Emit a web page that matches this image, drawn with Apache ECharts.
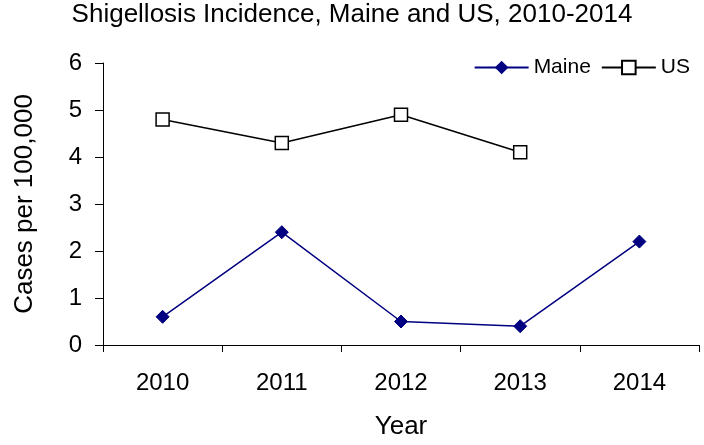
<!DOCTYPE html>
<html><head><meta charset="utf-8">
<script src="https://cdn.jsdelivr.net/npm/echarts@6/dist/echarts.min.js"></script>
<style>html,body{margin:0;padding:0;background:#fff}#c{width:704px;height:445px}</style>
</head><body><div id="c"></div>
<script>
const years = ['2010','2011','2012','2013','2014'];
const maine = [0.6, 2.4, 0.5, 0.4, 2.2];
const us = [4.8, 4.3, 4.9, 4.1, null];
const titleText = 'Shigellosis Incidence, Maine and US, 2010-2014';
const font = 'Liberation Sans, Arial, sans-serif';
const chart = echarts.init(document.getElementById('c'));
chart.setOption({
  animation: false,
  backgroundColor: '#fff',
  title: { text: titleText, left: 'center', top: 2, padding: [0, 0, 0, 0],
    textStyle: { fontFamily: font, fontSize: 26, fontWeight: 'normal', color: '#000' } },
  legend: { right: 14, top: 57, itemWidth: 54, itemHeight: 17, itemGap: 10, padding: 0,
    textStyle: { fontFamily: font, fontSize: 21, color: '#000' },
    data: ['Maine', 'US'] },
  grid: { left: 103, right: 5, top: 63, bottom: 98, containLabel: false },
  xAxis: { type: 'category', data: years, boundaryGap: true,
    name: 'Year', nameLocation: 'middle', nameGap: 69,
    nameTextStyle: { fontFamily: font, fontSize: 26, color: '#000' },
    axisLine: { lineStyle: { color: '#000', width: 1 } },
    axisTick: { show: true, length: 7, inside: false, alignWithLabel: false, lineStyle: { color: '#000' } },
    axisLabel: { fontFamily: font, fontSize: 24, color: '#000', margin: 26 },
    splitLine: { show: false } },
  yAxis: { type: 'value', min: 0, max: 6, interval: 1,
    name: 'Cases per 100,000', nameLocation: 'middle', nameGap: 65,
    nameTextStyle: { fontFamily: font, fontSize: 26, color: '#000' },
    axisLine: { show: true, lineStyle: { color: '#000', width: 1 } },
    axisTick: { show: true, length: 8, lineStyle: { color: '#000' } },
    axisLabel: { fontFamily: font, fontSize: 24, color: '#000', margin: 21 },
    splitLine: { show: false } },
  series: [
    { name: 'Maine', type: 'line', data: maine, symbol: 'diamond', symbolSize: 13,
      lineStyle: { color: '#000080', width: 1.5 }, itemStyle: { color: '#000080', borderColor: '#000080' } },
    { name: 'US', type: 'line', data: us, symbol: 'rect', symbolSize: 13, connectNulls: false,
      lineStyle: { color: '#000', width: 1.5 }, itemStyle: { color: '#fff', borderColor: '#000', borderWidth: 1.5 } }
  ]
});
</script></body></html>
